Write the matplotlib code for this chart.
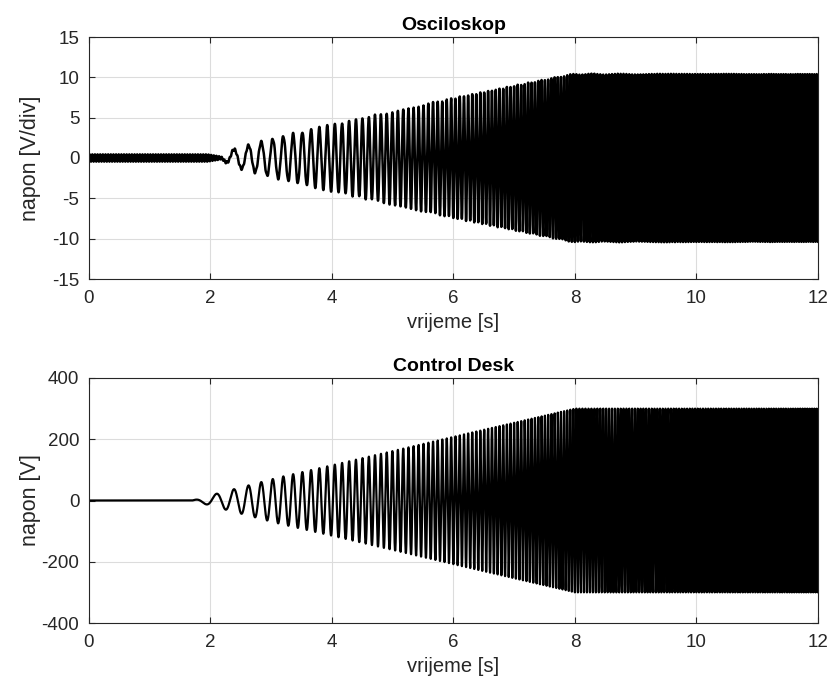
import numpy as np
import matplotlib.pyplot as plt

# envelope breakpoints (amplitude vs time)
env_time_cd = [0.0, 1.7, 2.1, 3.14, 4.0, 6.0, 8.0, 12.0]
env_cd = [0, 0, 22, 76, 115, 208, 300, 300]

env_time_osc = [0.0, 2.15, 2.35, 3.14, 4.0, 6.0, 7.9, 8.0, 12.0]
env_osc = [0, 0, 1.0, 2.6, 4.1, 7.4, 10.3, 10.4, 10.4]

# ripple on the scope trace before the sweep starts
ripple_time = [0.0, 1.95, 2.2, 12.0]
ripple_amp = [0.45, 0.45, 0.15, 0.0]

# sweep frequency breakpoints (Hz)
freq_time = [0.9, 4.4, 6.0, 8.0, 12.0]
freq_hz = [0.0, 9.1, 14.0, 20.0, 26.0]
phase0 = 0.38  # cycles

x_ticks = [0, 2, 4, 6, 8, 10, 12]
osc_ticks = [-15, -10, -5, 0, 5, 10, 15]
cd_ticks = [-400, -200, 0, 200, 400]

plt.rcParams['font.family'] = ['Liberation Sans', 'DejaVu Sans']
plt.rcParams['axes.unicode_minus'] = False


def sweep(fs):
    t = np.arange(0, 12, 1 / fs)
    f = np.interp(t, freq_time, freq_hz)
    cycles = np.cumsum(f) / fs + phase0
    return t, np.sin(2 * np.pi * cycles)


t_cd, s_cd = sweep(2000)
cd = np.interp(t_cd, env_time_cd, env_cd) * s_cd

t_osc, s_osc = sweep(1000)
osc = np.interp(t_osc, env_time_osc, env_osc) * s_osc
osc += np.interp(t_osc, ripple_time, ripple_amp) * np.sin(2 * np.pi * 23 * t_osc)


def style(ax, title, ylabel, yticks):
    ax.set_xlim(0, 12)
    ax.set_ylim(yticks[0], yticks[-1])
    ax.set_xticks(x_ticks)
    ax.set_yticks(yticks)
    ax.set_title(title, fontweight='bold', fontsize=14, color='black', pad=5)
    ax.set_xlabel('vrijeme [s]', fontsize=14.5, color='#262626', labelpad=4)
    ax.set_ylabel(ylabel, fontsize=15.5, color='#262626')
    ax.yaxis.set_label_coords(-0.066, 0.5)
    ax.grid(True, color='#dcdcdc', linewidth=0.8)
    ax.set_axisbelow(True)
    ax.tick_params(direction='in', top=True, right=True, length=4,
                   colors='#262626', labelsize=13.5)
    ax.tick_params(axis='x', pad=8)
    ax.tick_params(axis='y', pad=7)
    for sp in ax.spines.values():
        sp.set_color('#262626')
        sp.set_linewidth(0.8)


fig = plt.figure(figsize=(8.29, 6.86), dpi=100)
ax1 = fig.add_axes([89 / 829, 1 - 279 / 686, 729 / 829, 242 / 686])
ax2 = fig.add_axes([89 / 829, 1 - 623 / 686, 729 / 829, 245 / 686])

ax1.plot(t_osc, osc, color='black', linewidth=1.8)
style(ax1, 'Osciloskop', 'napon [V/div]', osc_ticks)

ax2.plot(t_cd, cd, color='black', linewidth=1.6)
style(ax2, 'Control Desk', 'napon [V]', cd_ticks)

fig.savefig('out.png', dpi=100)
